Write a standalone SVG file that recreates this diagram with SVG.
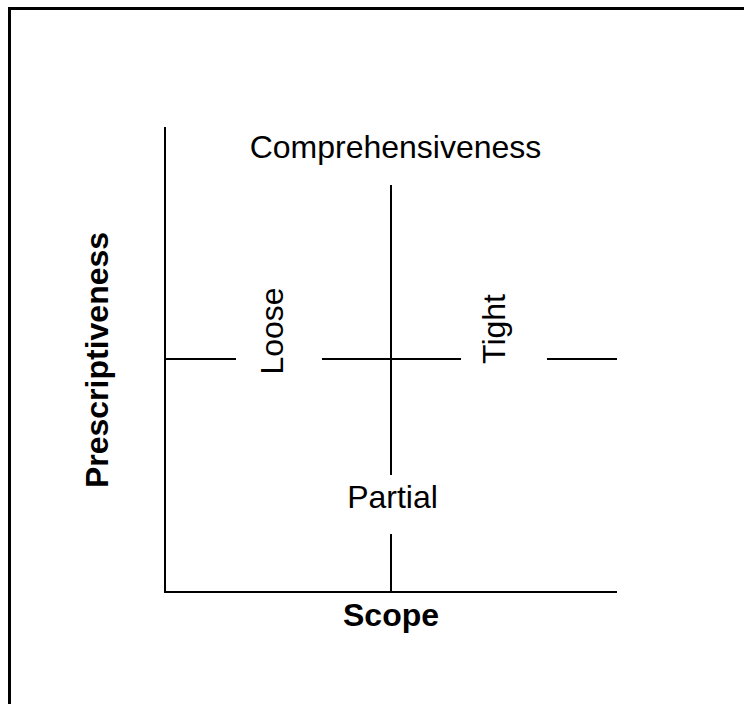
<svg xmlns="http://www.w3.org/2000/svg" width="744" height="704" viewBox="0 0 744 704">
<style>
.ln{stroke:#000;stroke-width:2;fill:none}
.fr{stroke:#000;stroke-width:3;fill:none}
.t{font-family:"Liberation Sans",Arial,sans-serif;font-size:32px;fill:#000;text-anchor:middle}
.b{font-weight:bold}
</style>
<rect width="744" height="704" fill="#fff"/>
<path class="fr" d="M9.5 704V8.5H744"/>
<g id="connectors">
<path class="ln" d="M165 127V592H617"/>
<path class="ln" d="M391 185V475M391 534V592"/>
<path class="ln" d="M165 359H236M322 359H461M547 359H617"/>
</g>
<g id="comprehensiveness"><text class="t" x="395.5" y="158">Comprehensiveness</text></g>
<g id="partial"><text class="t" x="392.5" y="508">Partial</text></g>
<g id="scope"><text class="t b" x="391" y="626">Scope</text></g>
<g id="loose"><text class="t" transform="translate(283 331) rotate(-90)">Loose</text></g>
<g id="tight"><text class="t" transform="translate(505 329) rotate(-90)">Tight</text></g>
<g id="prescriptiveness"><text class="t b" transform="translate(108 360) rotate(-90)">Prescriptiveness</text></g>
</svg>
